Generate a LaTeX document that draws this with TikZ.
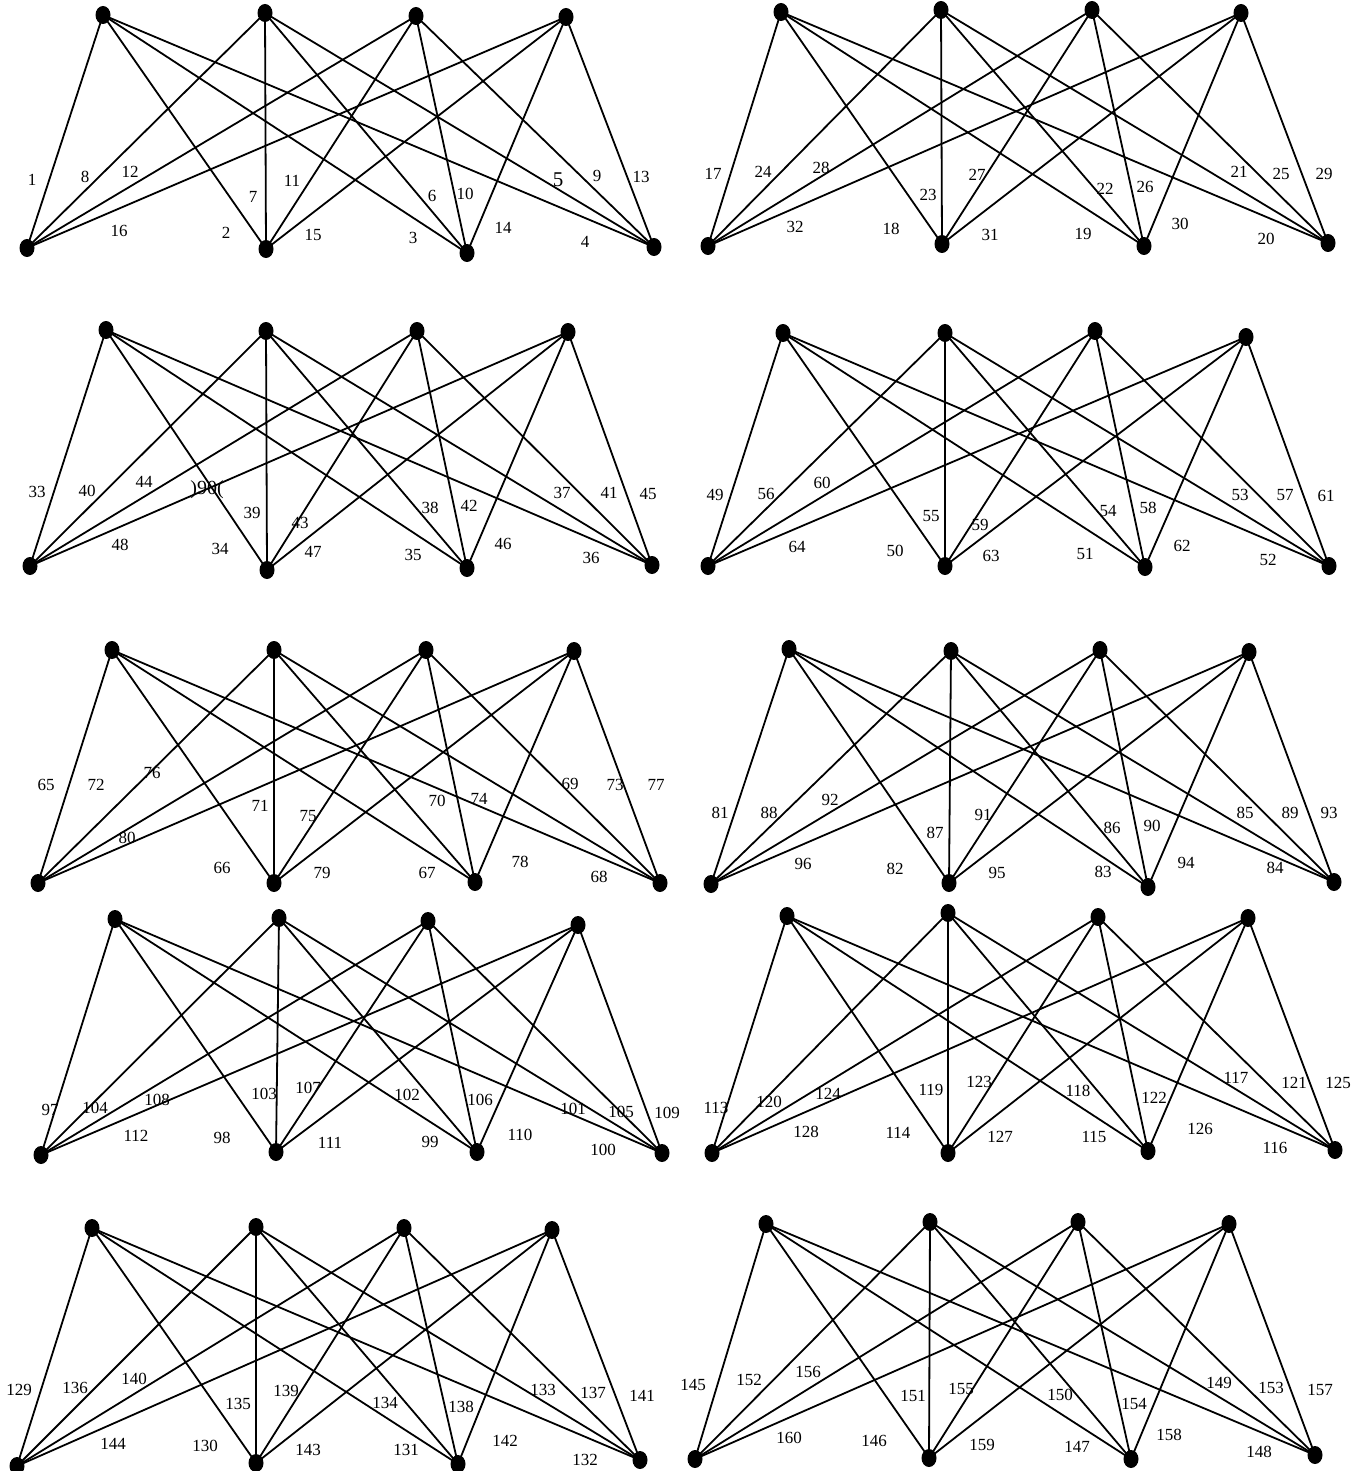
\documentclass[tikz,border=0pt]{standalone}
\usepackage{fontspec}
\setmainfont{Liberation Serif}
\usetikzlibrary{shapes.geometric}
\begin{document}
\begin{tikzpicture}[x=1pt,y=-1pt,
  dot/.style={ellipse,fill=black,draw=none,minimum width=15pt,minimum height=18pt,inner sep=0pt},
  edge/.style={line width=1.8pt,black},
  lab/.style={inner sep=0pt,font=\fontsize{17}{19}\selectfont}]
\useasboundingbox (0,0) rectangle (1359,1471);
% panel nodes: p/T1x/T1y/T2x/T2y/T3x/T3y/T4x/T4y
\foreach \p/\a/\b/\c/\d/\e/\f/\g/\h in {
 1/103/15/265/13/416/16/566/17,
 2/781/12/941/10/1092/10/1241/13,
 3/106/330/266/331/417/331/568/332,
 4/783/333/945/333/1095/331/1246/337,
 5/112/650/274/650/426/650/574/651,
 6/789/649/951/651/1100/650/1249/652,
 7/115/919/279/918/428/921/578/925,
 8/787/916/948/913/1098/917/1248/918,
 9/92/1228/256/1227/404/1228/552/1230,
 10/766/1224/930/1222/1078/1222/1229/1224}{
  \node[dot] (p\p-t1) at (\a,\b) {};
  \node[dot] (p\p-t2) at (\c,\d) {};
  \node[dot] (p\p-t3) at (\e,\f) {};
  \node[dot] (p\p-t4) at (\g,\h) {};
}
\foreach \p/\a/\b/\c/\d/\e/\f/\g/\h in {
 1/27/248/266/249/467/253/654/247,
 2/708/246/942/244/1144/246/1328/243,
 3/30/566/267/570/467/568/652/565,
 4/708/566/945/566/1145/567/1329/566,
 5/38/883/274/883/475/882/660/883,
 6/711/884/949/883/1148/887/1334/882,
 7/41/1155/276/1152/477/1152/662/1153,
 8/712/1153/948/1153/1148/1151/1335/1150,
 9/17/1466/256/1463/458/1464/640/1460,
 10/695/1459/929/1458/1131/1459/1315/1455}{
  \node[dot] (p\p-b1) at (\a,\b) {};
  \node[dot] (p\p-b2) at (\c,\d) {};
  \node[dot] (p\p-b3) at (\e,\f) {};
  \node[dot] (p\p-b4) at (\g,\h) {};
}
\foreach \p in {1,...,10}{
  \foreach \i in {1,...,4}{
    \foreach \j in {1,...,4}{
      \draw[edge] (p\p-t\i.center) -- (p\p-b\j.center);
    }
  }
}
% labels
\foreach \n/\x/\y in {
 1/32/180, 8/85/177, 12/130/172, 7/253/197, 11/292/181, 16/119/231, 2/226/233, 15/313/235,
 6/432/196, 10/465/194, 3/413/238, 14/503/228, 9/597/176, 13/641/177, 4/585/242,
 17/713/174, 24/763/172, 28/821/168, 23/928/195, 27/977/175, 32/795/227, 18/891/229, 31/990/235,
 22/1105/189, 26/1145/187, 19/1083/234, 30/1180/224, 21/1239/172, 25/1281/174, 29/1324/174, 20/1266/239,
 33/37/492, 40/87/491, 44/144/482, 39/252/513, 43/300/523, 48/120/545, 34/220/549, 47/313/552,
 38/430/508, 42/469/506, 35/413/555, 46/503/544, 37/562/493, 41/609/493, 45/648/494, 36/591/558,
 49/715/495, 56/766/494, 60/822/483, 55/931/516, 59/980/525, 64/797/547, 50/895/551, 63/991/556,
 54/1108/511, 58/1148/508, 51/1085/554, 62/1182/546, 53/1240/495, 57/1285/495, 61/1326/496, 52/1268/560,
 65/46/785, 72/96/785, 76/152/773, 71/260/806, 75/308/816, 80/127/838, 66/222/868, 79/322/873,
 70/437/801, 74/479/799, 67/427/873, 78/520/862, 69/570/784, 73/615/785, 77/656/785, 68/599/877,
 81/720/813, 88/769/813, 92/830/800, 87/935/833, 91/983/815, 96/803/864, 82/895/869, 95/997/873,
 86/1112/828, 90/1152/826, 83/1103/872, 94/1186/863, 85/1245/813, 89/1290/813, 93/1329/813, 84/1275/868,
 97/50/1110, 104/95/1108, 108/157/1100, 103/264/1094, 107/308/1088, 112/136/1136, 98/222/1138, 111/330/1143,
 102/407/1095, 106/480/1100, 99/430/1142, 110/520/1135, 101/573/1109, 105/621/1112, 109/667/1113, 100/603/1150,
 113/716/1108, 120/769/1102, 124/828/1094, 119/931/1090, 123/979/1082, 128/806/1132, 114/898/1133, 127/1000/1137,
 118/1078/1091, 122/1154/1098, 115/1094/1137, 126/1200/1129, 117/1236/1078, 121/1294/1083, 125/1338/1083, 116/1275/1148,
 129/19/1390, 136/75/1388, 140/134/1379, 135/238/1404, 139/286/1391, 144/113/1444, 130/205/1446, 143/308/1450,
 134/385/1403, 138/461/1407, 131/406/1450, 142/505/1441, 133/543/1390, 137/593/1393, 141/642/1396, 132/585/1460,
 145/693/1385, 152/749/1380, 156/808/1372, 151/913/1396, 155/961/1389, 160/789/1438, 146/874/1441, 159/982/1445,
 150/1060/1395, 154/1134/1404, 147/1077/1447, 158/1169/1435, 149/1219/1383, 153/1271/1388, 157/1320/1390, 148/1259/1452}{
  \node[lab] (l\n) at (\x,\y) {\n};
}
\node[lab,font=\fontsize{21}{23}\selectfont] (l5) at (558,180) {5};
\node[lab,font=\fontsize{20}{22}\selectfont] (lodd) at (207,490) {)90(};
\end{tikzpicture}
\end{document}
